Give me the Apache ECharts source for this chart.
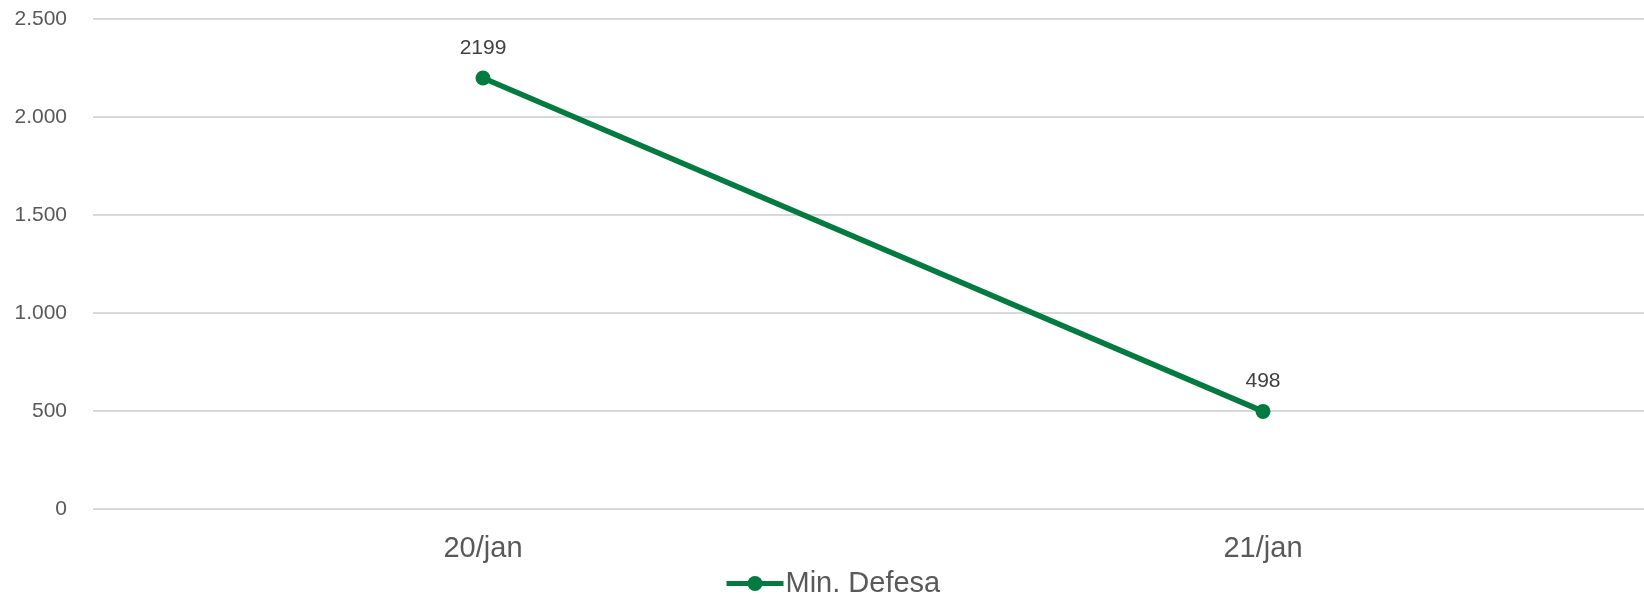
<!DOCTYPE html>
<html>
<head>
<meta charset="utf-8">
<script src="https://cdn.jsdelivr.net/npm/echarts@6/dist/echarts.min.js"></script>
<style>
html,body{margin:0;padding:0;background:#fff;}
#c{width:1644px;height:598px;}
</style>
</head>
<body>
<div id="c"></div>
<script>
const categories = ['20/jan', '21/jan'];
const seriesName = 'Min. Defesa';
const values = [2199, 498];
const yMin = 0, yMax = 2500, yStep = 500;

const green = '#037b40';
const font = '"Liberation Sans", Arial, sans-serif';

function fmt(v) {
  return String(v).replace(/\B(?=(\d{3})+(?!\d))/g, '.');
}

const chart = echarts.init(document.getElementById('c'), null, {renderer: 'canvas'});
chart.setOption({
  animation: false,
  backgroundColor: '#fff',
  grid: {left: 93, right: -9, top: 19, bottom: 89, containLabel: false, outerBoundsMode: 'none'},
  legend: {
    data: [seriesName],
    left: 724,
    top: 569,
    itemWidth: 57,
    itemHeight: 19,
    itemGap: 4,
    lineStyle: {width: 5},
    textStyle: {fontFamily: font, fontSize: 29, color: '#595959', padding: [0,0,0,-3]},
    padding: 0
  },
  xAxis: {
    type: 'category',
    data: categories,
    boundaryGap: true,
    axisLine: {show: false},
    axisTick: {show: false},
    axisLabel: {fontFamily: font, fontSize: 29, color: '#595959', margin: 25},
    splitLine: {show: false}
  },
  yAxis: {
    type: 'value',
    min: yMin, max: yMax, interval: yStep,
    axisLine: {show: false},
    axisTick: {show: false},
    axisLabel: {fontFamily: font, fontSize: 21, color: '#595959', margin: 26, formatter: fmt},
    splitLine: {lineStyle: {color: '#d9d9d9', width: 2}}
  },
  series: [{
    name: seriesName,
    type: 'line',
    data: values,
    symbol: 'circle',
    symbolSize: 15,
    lineStyle: {color: green, width: 5.5},
    itemStyle: {color: green},
    label: {
      show: true, position: 'top', distance: 12,
      fontFamily: font, fontSize: 21, color: '#404040'
    }
  }]
});
</script>
</body>
</html>
